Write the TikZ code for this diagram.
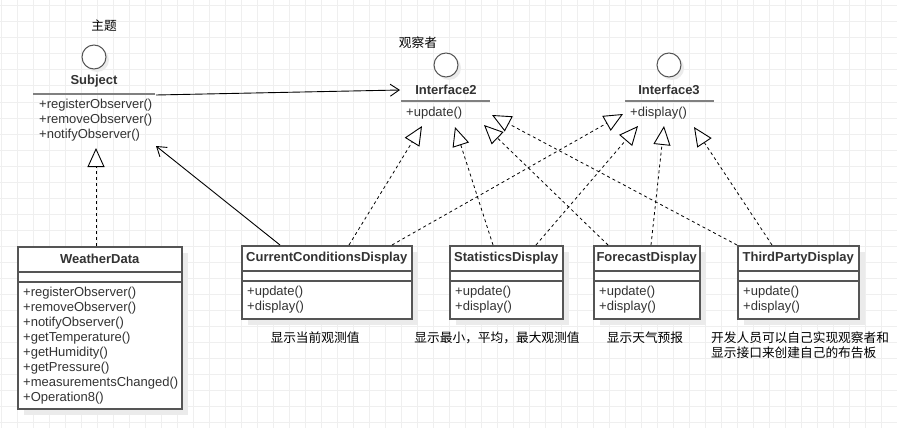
\documentclass[tikz,border=0pt]{standalone}
\usepackage{fontspec}
\setmainfont{Liberation Sans}
\newfontfamily\cjk{Noto Sans CJK SC}
\usetikzlibrary{arrows.meta,calc}
\definecolor{gridc}{HTML}{EFEFEF}
\definecolor{boxc}{HTML}{555555}
\definecolor{txt}{HTML}{333333}
\definecolor{shad}{HTML}{EBEBEB}
\definecolor{ulc}{HTML}{808080}
\newcommand\umlcls[7]{%
  \fill[shad] (#2+7,#3+7) rectangle ++(#4,#5);
  \node[classbox, minimum width=#4pt, minimum height=#5pt] (#1) at (#2,#3) {};
  \draw[sepline] ($(#1.north west)+(0,26)$) -- ($(#1.north east)+(0,26)$);
  \draw[sepline] ($(#1.north west)+(0,36)$) -- ($(#1.north east)+(0,36)$);
  \node[ctitle] (#1-t) at ($(#1.north)+(0,13)$) {#6};
  \foreach \m [count=\i] in {#7}
    \node[meth] (#1-m\i) at ($(#1.north west)+(6,{32+15*\i})$) {\m};
}
\begin{document}
\begin{tikzpicture}[x=1pt,y=-1pt,
  classbox/.style={draw=boxc, line width=1.5pt, fill=white, anchor=north west, inner sep=0pt, rectangle},
  sepline/.style={draw=boxc, line width=1.5pt},
  ctitle/.style={font=\fontsize{13}{15}\selectfont\bfseries, text=txt, inner sep=0pt},
  meth/.style={font=\fontsize{13}{15}\selectfont, text=txt, inner sep=0pt, anchor=west},
  note/.style={font=\cjk\fontsize{12.7}{15}\selectfont, text=black, inner sep=0pt},
  ifcirc/.style={circle, draw=boxc, line width=1pt, fill=white, minimum size=24pt, inner sep=0pt},
  ulinestyle/.style={draw=ulc, line width=2pt},
  realize/.style={black, line width=0.8pt, dash pattern=on 3pt off 3pt,
    -{Triangle[open, fill=white, length=19pt, width=17pt, line width=0.9pt]}},
  assoc/.style={black, line width=0.9pt, -{Straight Barb[length=9pt, width=12pt, line width=0.9pt]}}
]
\useasboundingbox (0,0) rectangle (897,428);
\fill[white] (0,0) rectangle (897,428);
% grid
\foreach \gx in {1,17,...,897} \draw[gridc, line width=1pt] (\gx,0) -- (\gx,428);
\foreach \gy in {6,22,...,428} \draw[gridc, line width=1pt] (0,\gy) -- (897,\gy);

% Subject interface
\fill[shad] (97,60) circle[radius=12];
\node[ifcirc] (subc) at (94,57) {};
\node[note] (subl) at (104,26) {主题};
\node[ctitle] (subt) at (94,81) {Subject};
\draw[ulinestyle] (33,94) -- (155,94);
\node[meth] (subm1) at (39,105) {+registerObserver()};
\node[meth] (subm2) at (39,120) {+removeObserver()};
\node[meth] (subm3) at (39,135) {+notifyObserver()};

% Interface2
\fill[shad] (449,68) circle[radius=12];
\node[ifcirc] (i2c) at (446,65) {};
\node[note] (i2l) at (418,43) {观察者};
\node[ctitle] (i2t) at (446,90) {Interface2};
\draw[ulinestyle] (401,101) -- (490,101);
\node[meth] (i2m) at (406,113) {+update()};

% Interface3
\fill[shad] (672,68) circle[radius=12];
\node[ifcirc] (i3c) at (669,65) {};
\node[ctitle] (i3t) at (669,90) {Interface3};
\draw[ulinestyle] (625,101) -- (714,101);
\node[meth] (i3m) at (630,113) {+display()};

% classes
\umlcls{wd}{17}{246}{164}{162}{WeatherData}{+registerObserver(),+removeObserver(),+notifyObserver(),+getTemperature(),+getHumidity(),+getPressure(),+measurementsChanged(),+Operation8()}
\umlcls{ccd}{241}{245}{170}{73}{CurrentConditionsDisplay}{+update(),+display()}
\umlcls{sd}{449}{245}{113}{73}{StatisticsDisplay}{+update(),+display()}
\umlcls{fd}{593}{245}{106}{73}{ForecastDisplay}{+update(),+display()}
\umlcls{tp}{737}{245}{121}{73}{ThirdPartyDisplay}{+update(),+display()}

% notes
\node[note] (n1) at (315,338) {显示当前观测值};
\node[note] (n2) at (497,338) {显示最小，平均，最大观测值};
\node[note] (n3) at (645,338) {显示天气预报};
\node[note, anchor=west] (n4a) at (711,338) {开发人员可以自己实现观察者和};
\node[note, anchor=west] (n4b) at (711,353) {显示接口来创建自己的布告板};

% connector end points
\coordinate (subR) at (156,95);
\coordinate (i2L) at (400,90);
\coordinate (subB) at (156,146);
\coordinate (subTip) at (96,148);
\coordinate (t1) at (422,126);
\coordinate (t2) at (455,127);
\coordinate (t3) at (484,125);
\coordinate (t4) at (492,115);
\coordinate (t5) at (623,114);
\coordinate (t6) at (638,126);
\coordinate (t7) at (664,126);
\coordinate (t8) at (694,127);

% associations
\draw[assoc] (subR) -- (i2L);
\draw[assoc] ($(ccd.north west)+(39,0)$) -- (subB);

% realizations
\draw[realize] ($(wd.north west)+(79,0)$) -- (subTip);
\draw[realize] ($(ccd.north west)+(108,0)$) -- (t1);
\draw[realize] ($(sd.north west)+(44,0)$) -- (t2);
\draw[realize] ($(fd.north west)+(15,0)$) -- (t3);
\draw[realize] (tp.north west) -- (t4);
\draw[realize] ($(ccd.north west)+(151,0)$) -- (t5);
\draw[realize] ($(sd.north west)+(87,0)$) -- (t6);
\draw[realize] ($(fd.north west)+(58,0)$) -- (t7);
\draw[realize] ($(tp.north west)+(35,0)$) -- (t8);
\end{tikzpicture}
\end{document}
